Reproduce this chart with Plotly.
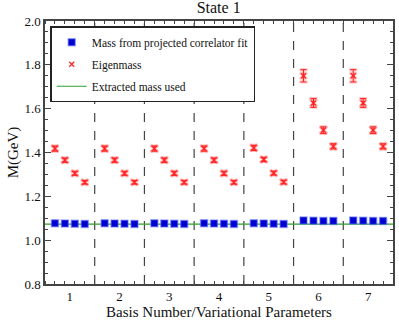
import plotly.graph_objects as go

basis = [1, 2, 3, 4, 5, 6, 7]

# projected correlator fit masses, 4 variational parameters per basis
proj_mass = [
    [1.077, 1.076, 1.075, 1.074],
    [1.077, 1.076, 1.075, 1.074],
    [1.077, 1.076, 1.075, 1.074],
    [1.077, 1.076, 1.075, 1.074],
    [1.077, 1.076, 1.075, 1.074],
    [1.090, 1.089, 1.088, 1.088],
    [1.090, 1.089, 1.088, 1.088],
]
proj_err = [
    [0.006, 0.006, 0.006, 0.006],
    [0.006, 0.006, 0.006, 0.006],
    [0.006, 0.006, 0.006, 0.006],
    [0.006, 0.006, 0.006, 0.006],
    [0.006, 0.006, 0.006, 0.006],
    [0.008, 0.008, 0.008, 0.008],
    [0.008, 0.008, 0.008, 0.008],
]

eigen_mass = [
    [1.418, 1.365, 1.305, 1.264],
    [1.418, 1.365, 1.305, 1.264],
    [1.418, 1.365, 1.305, 1.264],
    [1.418, 1.365, 1.305, 1.264],
    [1.421, 1.368, 1.306, 1.265],
    [1.750, 1.626, 1.502, 1.428],
    [1.750, 1.626, 1.502, 1.428],
]
eigen_err = [
    [0.012, 0.010, 0.009, 0.008],
    [0.012, 0.010, 0.009, 0.008],
    [0.012, 0.010, 0.009, 0.008],
    [0.012, 0.010, 0.009, 0.008],
    [0.012, 0.010, 0.009, 0.008],
    [0.028, 0.020, 0.015, 0.012],
    [0.028, 0.020, 0.015, 0.012],
]

extracted_mass = 1.073

FONT = "Liberation Serif"
AXC = "#444444"

# x position of each point within its basis group
n_par = len(proj_mass[0])
xs, pm, pe, em, ee = [], [], [], [], []
for i, b in enumerate(basis):
    for k in range(n_par):
        xs.append(b + (k - (n_par - 1) / 2) * 0.2)
        pm.append(proj_mass[i][k])
        pe.append(proj_err[i][k])
        em.append(eigen_mass[i][k])
        ee.append(eigen_err[i][k])

fig = go.Figure()

# green extracted mass line
fig.add_trace(go.Scatter(
    x=[basis[0] - 0.5, basis[-1] + 0.5], y=[extracted_mass] * 2,
    mode="lines", line=dict(color="#2ca02c", width=1.2),
    name="Extracted mass used", legendrank=3, legendgroup="c",
))

# light halo under eigenmass points
fig.add_trace(go.Scatter(
    x=xs, y=em, mode="markers", showlegend=False, hoverinfo="skip",
    marker=dict(symbol="x-thin", size=7, line=dict(color="rgba(255,80,80,0.35)", width=3)),
    error_y=dict(array=ee, color="rgba(255,80,80,0.35)", thickness=3, width=4),
))
fig.add_trace(go.Scatter(
    x=xs, y=em, mode="markers", name="Eigenmass", legendrank=2, legendgroup="b",
    marker=dict(symbol="x-thin", size=5, line=dict(color="#ff2020", width=1.2)),
    error_y=dict(array=ee, color="#ff2020", thickness=1, width=3),
))

fig.add_trace(go.Scatter(
    x=xs, y=pm, mode="markers", name="Mass from projected correlator fit",
    legendrank=1, legendgroup="a",
    marker=dict(symbol="square", size=7, color="#0000d0",
                line=dict(color="rgba(90,110,255,0.5)", width=1.5)),
    error_y=dict(array=pe, color="#0000d0", thickness=1, width=3),
))

# dashed separators between basis groups
for b in basis[:-1]:
    fig.add_shape(type="line", xref="x", yref="paper", x0=b + 0.5, x1=b + 0.5, y0=0, y1=1,
                  line=dict(color=AXC, width=1.2, dash="dash"), layer="below")

fig.update_layout(
    width=399, height=321,
    margin=dict(l=45, r=6, t=21, b=37, autoexpand=False),
    paper_bgcolor="white", plot_bgcolor="white",
    font=dict(family=FONT, color="#111111", size=13),
    title=dict(text="State 1", x=0.548, xanchor="center", y=0.995, yanchor="top",
               font=dict(size=16, family=FONT), automargin=False),
    showlegend=True,
    legend=dict(x=0.015, y=0.98, xanchor="left", yanchor="top",
                bordercolor="#222222", borderwidth=1.5, bgcolor="white",
                font=dict(size=11.5, family=FONT), traceorder="grouped",
                tracegroupgap=3, itemwidth=30),
    xaxis=dict(
        range=[basis[0] - 0.5, basis[-1] + 0.5], automargin=False,
        tickmode="array", tickvals=basis, ticks="", showgrid=False, zeroline=False,
        showline=True, linecolor=AXC, linewidth=1.5, mirror=True,
        minor=dict(tick0=0.5, dtick=0.2, ticks="inside", ticklen=3, tickcolor=AXC, showgrid=False),
        title=dict(text="Basis Number/Variational Parameters", font=dict(size=15), standoff=2),
        tickfont=dict(size=13),
    ),
    yaxis=dict(
        range=[0.8, 2.0], dtick=0.2, tickformat=".1f", showgrid=False, zeroline=False,
        ticks="inside", ticklen=6, tickcolor=AXC, automargin=False,
        showline=True, linecolor=AXC, linewidth=1.5, mirror=True,
        minor=dict(dtick=0.05, ticks="inside", ticklen=3, tickcolor=AXC, showgrid=False),
        title=dict(text="M(GeV)", font=dict(size=15), standoff=2),
        tickfont=dict(size=13),
    ),
    # top / right copies of the axes to carry the mirrored tick marks
    xaxis2=dict(
        overlaying="x", side="top", matches="x", showticklabels=False, automargin=False,
        tickmode="array", tickvals=basis, ticks="", showgrid=False, zeroline=False,
        minor=dict(tick0=0.5, dtick=0.2, ticks="inside", ticklen=3, tickcolor=AXC, showgrid=False),
    ),
    yaxis2=dict(
        overlaying="y", side="right", matches="y", showticklabels=False, automargin=False,
        dtick=0.2, ticks="inside", ticklen=6, tickcolor=AXC, showgrid=False, zeroline=False,
        minor=dict(dtick=0.05, ticks="inside", ticklen=3, tickcolor=AXC, showgrid=False),
    ),
)

# invisible trace so the mirrored axes get drawn
fig.add_trace(go.Scatter(x=[basis[0]], y=[extracted_mass], xaxis="x2", yaxis="y2",
                         mode="markers", marker=dict(opacity=0), showlegend=False,
                         hoverinfo="skip"))

# the page's default body margin would shift the figure by 8px
fig.write_html("out.html", config={"displayModeBar": False},
               post_script="document.body.style.margin='0';")
